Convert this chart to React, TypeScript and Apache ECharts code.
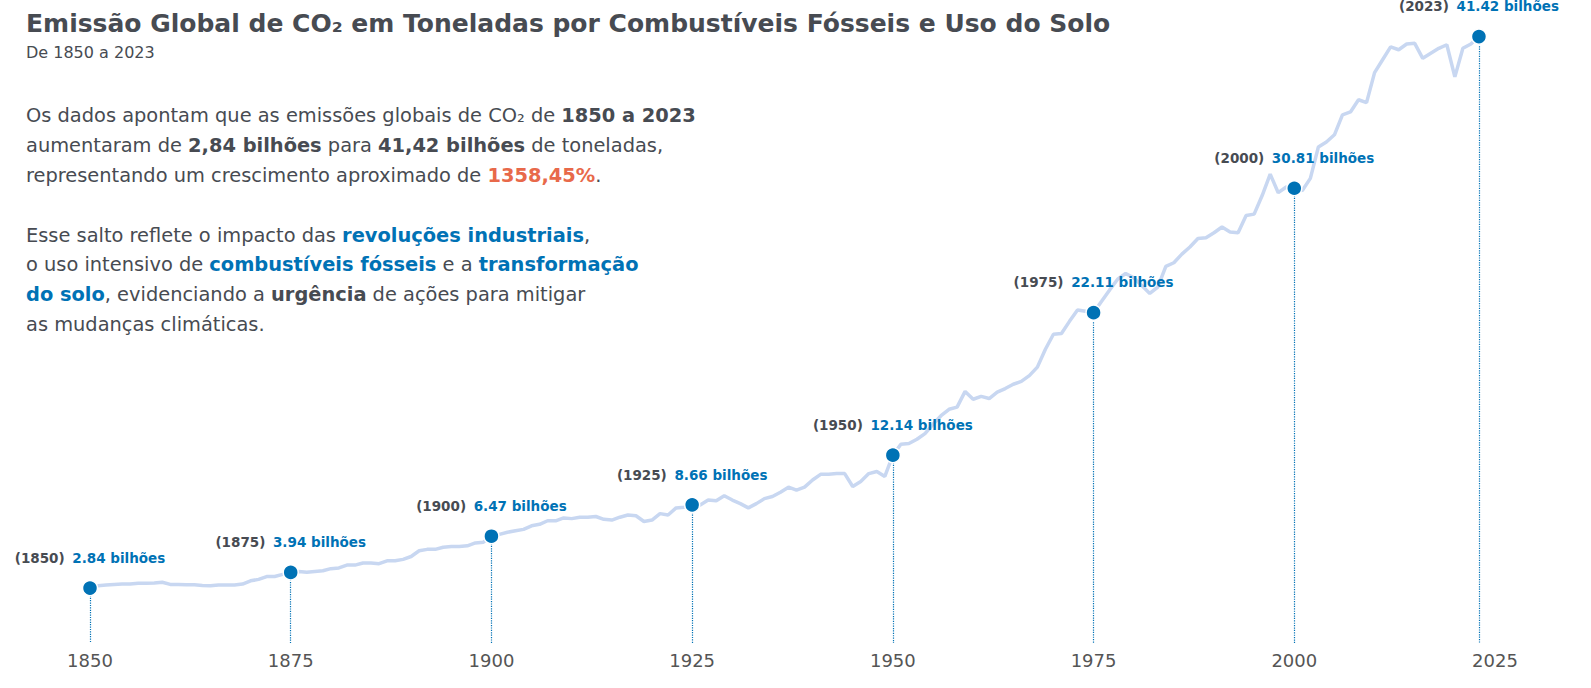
import React, { useEffect, useRef } from "react";
import * as echarts from "echarts";

const years: number[] = Array.from({ length: 174 }, (_, i) => 1850 + i);
const emissions: number[] = [
  2.84, 3.0, 3.05, 3.1, 3.12, 3.12, 3.18, 3.18, 3.2, 3.25,
  3.1, 3.1, 3.08, 3.07, 3.03, 3.0, 3.05, 3.05, 3.05, 3.12,
  3.35, 3.45, 3.65, 3.65, 3.8, 3.94, 4.0, 3.95, 4.0, 4.05,
  4.2, 4.25, 4.45, 4.45, 4.6, 4.6, 4.55, 4.75, 4.75, 4.85,
  5.05, 5.45, 5.55, 5.55, 5.7, 5.75, 5.75, 5.8, 6.0, 6.05,
  6.47, 6.6, 6.75, 6.85, 6.95, 7.2, 7.3, 7.55, 7.55, 7.75,
  7.7, 7.8, 7.8, 7.85, 7.65, 7.6, 7.8, 7.95, 7.9, 7.5,
  7.6, 8.05, 7.95, 8.45, 8.5, 8.66, 8.66, 9.0, 8.95, 9.3,
  9.0, 8.75, 8.45, 8.75, 9.1, 9.25, 9.55, 9.9, 9.7, 9.9,
  10.4, 10.8, 10.8, 10.85, 10.85, 9.95, 10.3, 10.85, 11.0, 10.65,
  12.14, 12.9, 12.95, 13.25, 13.65, 14.3, 14.9, 15.35, 15.5, 16.6,
  16.05, 16.25, 16.1, 16.55, 16.8, 17.1, 17.3, 17.7, 18.3, 19.55,
  20.6, 20.65, 21.5, 22.3, 22.2, 22.11, 22.9, 23.7, 24.45, 24.85,
  24.55, 24.0, 23.45, 23.9, 25.35, 25.6, 26.2, 26.7, 27.3, 27.35,
  27.7, 28.1, 27.75, 27.7, 28.9, 29.0, 30.3, 31.8, 30.5, 30.9,
  30.81, 30.65, 31.5, 33.7, 34.05, 34.55, 35.95, 36.15, 37.0, 36.8,
  38.9, 39.8, 40.7, 40.5, 40.9, 40.95, 39.9, 40.25, 40.6, 40.85,
  38.6, 40.6, 40.9, 41.42,
];
const highlightYears: number[] = [1850, 1875, 1900, 1925, 1950, 1975, 2000, 2023];
const highlightLabels: string[] = [
  "2.84 bilhões", "3.94 bilhões", "6.47 bilhões", "8.66 bilhões",
  "12.14 bilhões", "22.11 bilhões", "30.81 bilhões", "41.42 bilhões",
];
const xTicks: number[] = [1850, 1875, 1900, 1925, 1950, 1975, 2000, 2025];

const FONT = "DejaVu Sans";
const GRAY = "#474b52";
const BLUE = "#0072b5";
const FS = 19.4;
const LH = 29.8;

export default function App() {
  const ref = useRef<HTMLDivElement>(null);
  useEffect(() => {
    document.body.style.margin = "0";
    const chart = echarts.init(ref.current!, undefined, { renderer: "svg" });
    const lineData = years.map((y, i) => [y, emissions[i]]);
    const pts = highlightYears.map((y, i) => ({
      value: [y, emissions[years.indexOf(y)]],
      label: { formatter: `{g|(${y})}  {b|${highlightLabels[i]}}` },
    }));
    chart.setOption({
      animation: false,
      textStyle: { fontFamily: FONT },
      title: {
        text: "Emissão Global de CO₂ em Toneladas por Combustíveis Fósseis e Uso do Solo",
        subtext: "De 1850 a 2023",
        left: 21,
        top: 6,
        itemGap: 8,
        textStyle: { fontFamily: FONT, fontSize: 25, fontWeight: "bold", color: GRAY },
        subtextStyle: { fontFamily: FONT, fontSize: 16, color: GRAY },
      },
      grid: { left: 90, right: 96, top: 14, bottom: 45, containLabel: false, outerBoundsMode: "none" },
      xAxis: {
        type: "value",
        min: 1850,
        max: 2025,
        interval: 25,
        axisLine: { show: false },
        axisTick: { show: false },
        splitLine: { show: false },
        axisLabel: {
          fontSize: 18, color: "#555", fontFamily: FONT, margin: 8,
          formatter: (v: number) => (xTicks.includes(v) ? String(v) : ""),
        },
      },
      yAxis: { type: "value", min: -1, max: 43, show: false, splitLine: { show: false } },
      graphic: [
        {
          type: "text",
          left: 26,
          top: 101,
          style: {
            text: [
              "Os dados apontam que as emissões globais de CO₂ de {b|1850 a 2023}",
              "aumentaram de {b|2,84 bilhões} para {b|41,42 bilhões} de toneladas,",
              "representando um crescimento aproximado de {r|1358,45%}.",
              "",
              "Esse salto reflete o impacto das {bl|revoluções industriais},",
              "o uso intensivo de {bl|combustíveis fósseis} e a {bl|transformação}",
              "{bl|do solo}, evidenciando a {b|urgência} de ações para mitigar",
              "as mudanças climáticas.",
            ].join("\n"),
            fontFamily: FONT,
            fontSize: FS,
            lineHeight: LH,
            fill: GRAY,
            rich: {
              b: { fontFamily: FONT, fontSize: FS, fontWeight: "bold", fill: GRAY, lineHeight: LH },
              r: { fontFamily: FONT, fontSize: FS, fontWeight: "bold", fill: "#e8694a", lineHeight: LH },
              bl: { fontFamily: FONT, fontSize: FS, fontWeight: "bold", fill: BLUE, lineHeight: LH },
            },
          },
        },
      ],
      series: [
        {
          type: "line",
          data: lineData,
          showSymbol: false,
          lineStyle: { color: "#c8d7f1", width: 3.5 },
          z: 2,
        },
        {
          type: "scatter",
          data: pts,
          symbolSize: 15,
          itemStyle: { color: BLUE, borderColor: "#fff", borderWidth: 1.5, opacity: 1 },
          z: 5,
          label: {
            show: true,
            position: "top",
            distance: 15,
            rich: {
              g: { fontFamily: FONT, fontSize: 13.5, fontWeight: "bold", color: GRAY },
              b: { fontFamily: FONT, fontSize: 13.5, fontWeight: "bold", color: BLUE },
            },
          },
          markLine: {
            silent: true,
            symbol: "none",
            label: { show: false },
            lineStyle: { color: BLUE, type: "dotted", width: 1.2, opacity: 1 },
            data: highlightYears.map((y) => [
              { coord: [y, emissions[years.indexOf(y)]] },
              { coord: [y, -1] },
            ]),
          },
        },
      ],
    });
    return () => chart.dispose();
  }, []);
  return <div ref={ref} style={{ width: 1591, height: 688 }} />;
}
